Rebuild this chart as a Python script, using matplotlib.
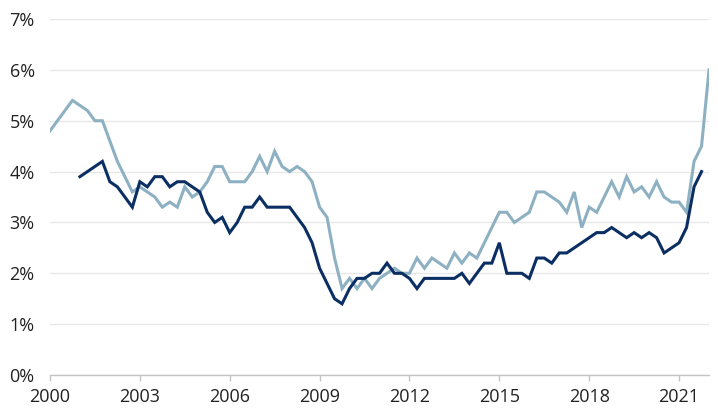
import numpy as np
import matplotlib
matplotlib.use("Agg")
import matplotlib.pyplot as plt
from matplotlib.ticker import FuncFormatter

plt.rcParams['font.family'] = ['Open Sans', 'DejaVu Sans']

# quarterly, starting 2000 Q1
light_start = 2000.0
light_vals = [4.8, 5.0, 5.2, 5.4, 5.3, 5.2, 5.0, 5.0, 4.6, 4.2, 3.9, 3.6,
              3.7, 3.6, 3.5, 3.3, 3.4, 3.3, 3.7, 3.5, 3.6, 3.8, 4.1, 4.1,
              3.8, 3.8, 3.8, 4.0, 4.3, 4.0, 4.4, 4.1, 4.0, 4.1, 4.0, 3.8,
              3.3, 3.1, 2.3, 1.7, 1.9, 1.7, 1.9, 1.7, 1.9, 2.0, 2.1, 2.0,
              2.0, 2.3, 2.1, 2.3, 2.2, 2.1, 2.4, 2.2, 2.4, 2.3, 2.6, 2.9,
              3.2, 3.2, 3.0, 3.1, 3.2, 3.6, 3.6, 3.5, 3.4, 3.2, 3.6, 2.9,
              3.3, 3.2, 3.5, 3.8, 3.5, 3.9, 3.6, 3.7, 3.5, 3.8, 3.5, 3.4,
              3.4, 3.2, 4.2, 4.5, 6.0]

# quarterly, starting 2001 Q1
dark_start = 2001.0
dark_vals = [3.9, 4.0, 4.1, 4.2, 3.8, 3.7, 3.5, 3.3,
             3.8, 3.7, 3.9, 3.9, 3.7, 3.8, 3.8, 3.7, 3.6, 3.2, 3.0, 3.1,
             2.8, 3.0, 3.3, 3.3, 3.5, 3.3, 3.3, 3.3, 3.3, 3.1, 2.9, 2.6,
             2.1, 1.8, 1.5, 1.4, 1.7, 1.9, 1.9, 2.0, 2.0, 2.2, 2.0, 2.0,
             1.9, 1.7, 1.9, 1.9, 1.9, 1.9, 1.9, 2.0, 1.8, 2.0, 2.2, 2.2,
             2.6, 2.0, 2.0, 2.0, 1.9, 2.3, 2.3, 2.2, 2.4, 2.4, 2.5, 2.6,
             2.7, 2.8, 2.8, 2.9, 2.8, 2.7, 2.8, 2.7, 2.8, 2.7, 2.4, 2.5,
             2.6, 2.9, 3.7, 4.0]

year_ticks = [2000, 2003, 2006, 2009, 2012, 2015, 2018, 2021]

light_x = light_start + np.arange(len(light_vals)) * 0.25
dark_x = dark_start + np.arange(len(dark_vals)) * 0.25

fig = plt.figure(figsize=(7.18, 4.17), dpi=100)
ax = fig.add_axes([0.0696, 0.1007, 0.9179, 0.8537])

ax.plot(light_x, light_vals, color="#8db1c3", lw=2.2, solid_joinstyle="miter", zorder=3)
ax.plot(dark_x, dark_vals, color="#0b2f62", lw=2.2, solid_joinstyle="miter", zorder=4)

ax.set_xlim(2000, 2022)
ax.set_ylim(0, 7)
ax.set_yticks(range(0, 8))
ax.yaxis.set_major_formatter(FuncFormatter(lambda v, p: "%d%%" % v))
ax.set_xticks(year_ticks)
ax.set_xticklabels([str(y) for y in year_ticks])

ax.grid(axis="y", color="#e8e8e8", lw=1)
ax.set_axisbelow(True)
for s in ["top", "right", "left"]:
    ax.spines[s].set_visible(False)
ax.spines["bottom"].set_color("#c4c4c4")
ax.spines["bottom"].set_linewidth(1)

ax.tick_params(axis="y", length=0, pad=11, labelsize=13, labelcolor="#222222")
ax.tick_params(axis="x", length=4, width=1, color="#c4c4c4", pad=5,
               labelsize=13, labelcolor="#222222")

fig.savefig("out.png", dpi=100)
